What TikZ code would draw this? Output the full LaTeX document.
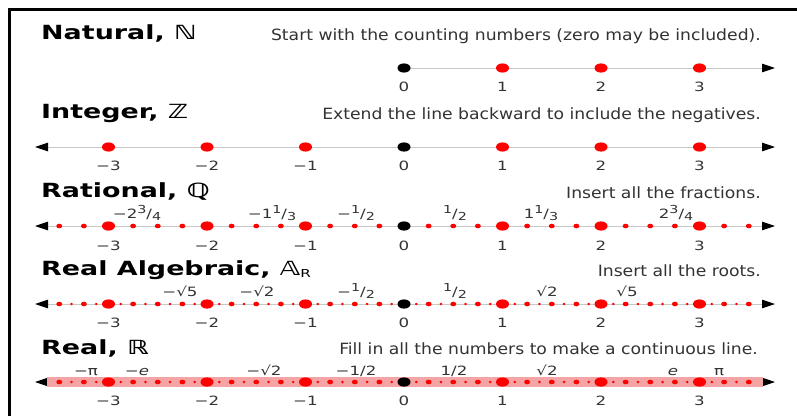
\documentclass[tikz,border=0pt]{standalone}
\usepackage{fontspec}
\setmainfont{DejaVu Sans}
\newfontfamily\titlefont{DejaVu Sans}[FakeStretch=1.38]
\newfontfamily\descfont{DejaVu Sans}[FakeStretch=1.11]
\newfontfamily\numfont{DejaVu Sans}[FakeStretch=1.3]
\usetikzlibrary{arrows.meta}
\definecolor{txt}{HTML}{333333}
\definecolor{axisgray}{HTML}{C8C8C8}
\definecolor{bandpink}{HTML}{F4A4A4}
\definecolor{dotred}{HTML}{FF0000}
\newcommand{\fr}[2]{\raisebox{0.36em}{\fontsize{11}{12}\selectfont #1}/\raisebox{-0.2em}{\fontsize{11}{12}\selectfont #2}}
\tikzset{
  title/.style={anchor=base west, inner sep=0pt, font=\titlefont\bfseries\fontsize{19.5}{20}\selectfont},
  desc/.style={anchor=base east, inner sep=0pt, text=txt, font=\descfont\fontsize{15.5}{16}\selectfont},
  num/.style={anchor=base, inner sep=0pt, text=txt, font=\numfont\fontsize{12.8}{13}\selectfont},
  axisline/.style={draw=axisgray, line width=1pt},
  bothtips/.style={{Triangle[length=13pt,width=8.5pt,color=black]}-{Triangle[length=13pt,width=8.5pt,color=black]}},
  righttip/.style={-{Triangle[length=13pt,width=8.5pt,color=black]}},
  bigdot/.style={fill=dotred},
  zerodot/.style={fill=black},
  smalldot/.style={fill=dotred},
}
\begin{document}
\begin{tikzpicture}[x=1pt,y=-1pt]
\useasboundingbox (0,0) rectangle (797,416);
\fill[white] (0,0) rectangle (797,416);
\draw[line width=3pt] (9.5,416) |- (797,9);

% ---------- Natural ----------
\node[title] (tN) at (41,39) {Natural, ℕ};
\node[desc] (dN) at (761,40) {Start with the counting numbers (zero may be included).};
\coordinate (nL) at (404,68);
\coordinate (nR) at (775,68);
\draw[axisline,righttip] (nL) -- (nR);
\foreach \n in {1,2,3} \fill[bigdot] ({404+98.5*\n},68) ellipse (6.5 and 4.6);
\fill[zerodot] (404,68) ellipse (6.5 and 4.6);
\foreach \n in {0,1,2,3} \node[num] (nl\n) at ({404+98.5*\n},91) {\n};

% ---------- Integer ----------
\node[title] (tZ) at (41,118) {Integer, ℤ};
\node[desc] (dZ) at (761,119) {Extend the line backward to include the negatives.};
\coordinate (zL) at (35,147);
\coordinate (zR) at (775,147);
\draw[axisline,bothtips] (zL) -- (zR);
\foreach \n in {-3,-2,-1,1,2,3} \fill[bigdot] ({404+98.5*\n},147) ellipse (6.5 and 4.6);
\fill[zerodot] (404,147) ellipse (6.5 and 4.6);
\foreach \n/\t in {-3/−3,-2/−2,-1/−1,0/0,1/1,2/2,3/3} \node[num] (zl\n) at ({404+98.5*\n},170) {\t};

% ---------- Rational ----------
\node[title] (tQ) at (41,197) {Rational, ℚ};
\node[desc] (dQ) at (761,198) {Insert all the fractions.};
\coordinate (qL) at (35,226);
\coordinate (qR) at (775,226);
\draw[axisline,bothtips] (qL) -- (qR);
\foreach \k in {-14,...,14} \fill[smalldot] ({404+98.5*\k/4},226) ellipse (3 and 2.3);
\foreach \n in {-3,-2,-1,1,2,3} \fill[bigdot] ({404+98.5*\n},226) ellipse (6.5 and 4.6);
\fill[zerodot] (404,226) ellipse (6.5 and 4.6);
\foreach \n/\t in {-3/−3,-2/−2,-1/−1,0/0,1/1,2/2,3/3} \node[num] (ql\n) at ({404+98.5*\n},250) {\t};
\node[num] (qa) at (137,218) {−2\fr{3}{4}};
\node[num] (qb) at (272,218) {−1\fr{1}{3}};
\node[num] (qc) at (356,218) {−\fr{1}{2}};
\node[num] (qd) at (455,218) {\fr{1}{2}};
\node[num] (qe) at (541,218) {1\fr{1}{3}};
\node[num] (qf) at (676,218) {2\fr{3}{4}};

% ---------- Real Algebraic ----------
\node[title] (tA) at (41,275) {Real Algebraic, 𝔸\raisebox{-0.12em}{\mdseries\fontsize{11}{12}\selectfont R}};
\node[desc] (dA) at (761,276) {Insert all the roots.};
\coordinate (aL) at (35,304);
\coordinate (aR) at (775,304);
\draw[axisline,bothtips] (aL) -- (aR);
\foreach \k in {-27,-25,...,27} \fill[smalldot] ({404+98.5*\k/8},304) ellipse (1.5 and 1.3);
\foreach \k in {-14,...,14} \fill[smalldot] ({404+98.5*\k/4},304) ellipse (3 and 2.3);
\foreach \n in {-3,-2,-1,1,2,3} \fill[bigdot] ({404+98.5*\n},304) ellipse (6.5 and 4.6);
\fill[zerodot] (404,304) ellipse (6.5 and 4.6);
\foreach \n/\t in {-3/−3,-2/−2,-1/−1,0/0,1/1,2/2,3/3} \node[num] (al\n) at ({404+98.5*\n},327) {\t};
\node[num] (aa) at (180,296) {−√5};
\node[num] (ab) at (257,296) {−√2};
\node[num] (ac) at (356,296) {−\fr{1}{2}};
\node[num] (ad) at (455,296) {\fr{1}{2}};
\node[num] (ae) at (547,296) {√2};
\node[num] (af) at (627,296) {√5};

% ---------- Real ----------
\node[title] (tR) at (41,354) {Real, ℝ};
\node[desc] (dR) at (758,354) {Fill in all the numbers to make a continuous line.};
\coordinate (rL) at (35,382);
\coordinate (rR) at (775,382);
\coordinate (bL) at (47,382);
\coordinate (bR) at (763,382);
\draw[axisline,bothtips] (rL) -- (rR);
\draw[bandpink, line width=9.5pt] (bL) -- (bR);
\foreach \k in {-27,-25,...,27} \fill[smalldot] ({404+98.5*\k/8},382) ellipse (1.5 and 1.3);
\foreach \k in {-14,...,14} \fill[smalldot] ({404+98.5*\k/4},382) ellipse (3 and 2.3);
\foreach \n in {-3,-2,-1,1,2,3} \fill[bigdot] ({404+98.5*\n},382) ellipse (6.5 and 4.6);
\fill[zerodot] (404,382) ellipse (6.5 and 4.6);
\foreach \n/\t in {-3/−3,-2/−2,-1/−1,0/0,1/1,2/2,3/3} \node[num] (rl\n) at ({404+98.5*\n},405) {\t};
\node[num] (ra) at (86,375) {−π};
\node[num] (rb) at (137,375) {−{\itshape e}};
\node[num] (rc) at (264,375) {−√2};
\node[num] (rd) at (356,375) {−1/2};
\node[num] (re) at (454,375) {1/2};
\node[num] (rf) at (547,375) {√2};
\node[num] (rg) at (673,375) {{\itshape e}};
\node[num] (rh) at (719,375) {π};
\end{tikzpicture}
\end{document}
